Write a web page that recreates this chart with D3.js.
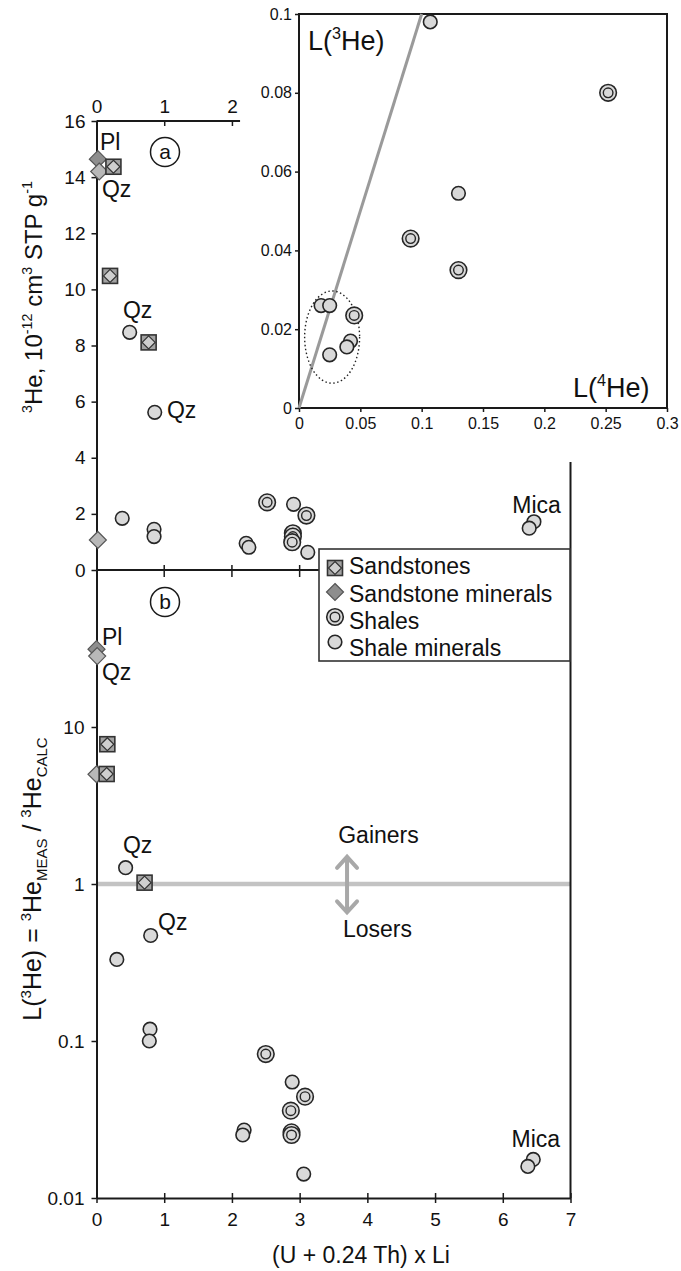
<!DOCTYPE html>
<html>
<head>
<meta charset="utf-8">
<title>3He loss vs (U + 0.24 Th) x Li</title>
<script src="https://d3js.org/d3.v7.min.js"></script>
<style>
  body { margin: 0; background: #fff; }
  text { font-family: "Liberation Sans", Arial, sans-serif; fill: #111; }
</style>
</head>
<body>
<script>
// ---- data ----
// panel (a): 3He concentration
var aSandX = [0.25, 0.20, 0.77];
var aSandY = [14.37, 10.48, 8.11];
var aSandMinX = [0.02, 0.04, 0.02];
var aSandMinY = [14.64, 14.20, 1.07];
var sandMinName = ["Pl", "Qz", "Qz"];
var aShaleX = [2.52, 3.10, 2.90, 2.90, 2.89];
var aShaleY = [2.41, 1.94, 1.31, 1.19, 0.99];
var aShaleMinX = [0.49, 0.86, 0.38, 0.85, 0.85, 2.21, 2.25, 2.91, 3.12, 6.46, 6.39];
var aShaleMinY = [8.47, 5.62, 1.84, 1.45, 1.19, 0.95, 0.81, 2.34, 0.63, 1.72, 1.49];

// panel (b): L(3He)
var bSandX = [0.16, 0.15, 0.71];
var bSandY = [7.77, 5.02, 1.02];
var bSandMinX = [0.00, 0.01, 0.00];
var bSandMinY = [31.3, 28.3, 5.0];
var bShaleX = [2.50, 3.08, 2.87, 2.88, 2.88];
var bShaleY = [0.0826, 0.0442, 0.036, 0.0262, 0.0252];
var bShaleMinX = [0.43, 0.80, 0.30, 0.79, 0.78, 2.89, 2.18, 2.16, 3.06, 6.45, 6.37];
var bShaleMinY = [1.27, 0.47, 0.331, 0.119, 0.100, 0.0548, 0.0271, 0.0252, 0.0142, 0.0176, 0.0159];

// inset: L(3He) vs L(4He)
var inShaleX = [0.252, 0.091, 0.130, 0.045];
var inShaleY = [0.080, 0.043, 0.035, 0.0235];
var inShaleMinX = [0.107, 0.130, 0.018, 0.025, 0.042, 0.039, 0.025];
var inShaleMinY = [0.098, 0.0545, 0.026, 0.026, 0.017, 0.0155, 0.0135];
var ellipseCentre = [0.027, 0.018];
var ellipseRadii = [0.0224, 0.0117];

// ticks
var xTicks = [0, 1, 2, 3, 4, 5, 6, 7];
var xTicksTop = [0, 1, 2];
var xTicksMid = [1, 2, 3];
var yTicksA = [0, 2, 4, 6, 8, 10, 12, 14, 16];
var yTicksB = [0.01, 0.1, 1, 10];
var yTickLabelsB = ["0.01", "0.1", "1", "10"];
var inXTicks = [0, 0.05, 0.1, 0.15, 0.2, 0.25, 0.3];
var inYTicks = [0, 0.02, 0.04, 0.06, 0.08, 0.1];

// annotations (data coordinates)
var notesA = [["Pl", 0.05, 14.97], ["Qz", 0.08, 13.29], ["Qz", 0.39, 8.98], ["Qz", 1.04, 5.42], ["Mica", 6.14, 2.03]];
var notesB = [["Pl", 0.08, 33.3], ["Qz", 0.08, 19.9], ["Qz", 0.39, 1.575], ["Qz", 0.91, 0.509], ["Mica", 6.13, 0.0211]];
var legendItems = ["Sandstones", "Sandstone minerals", "Shales", "Shale minerals"];

var zip = function (xs, ys) { return xs.map(function (x, i) { return [x, ys[i]]; }); };

var W = 681, H = 1271;
var svg = d3.select("body").append("svg").attr("width", W).attr("height", H);

// scales
var x = d3.scaleLinear().domain([0, 7]).range([96.5, 570.5]);
var yA = d3.scaleLinear().domain([0, 16]).range([570, 121]);
var yB = d3.scaleLog().domain([0.01, 100]).range([1198, 570]);
var xi = d3.scaleLinear().domain([0, 0.3]).range([299, 667]);
var yi = d3.scaleLinear().domain([0, 0.1]).range([408, 14]);

var ink = "#1a1a1a";
var FS = 19;

function styleAxis(g, fs) {
  g.selectAll("path.domain").attr("stroke", ink).attr("stroke-width", 2);
  g.selectAll(".tick line").attr("stroke", ink).attr("stroke-width", 1.5);
  g.selectAll(".tick text").attr("font-size", fs).attr("font-family", '"Liberation Sans", Arial, sans-serif').attr("fill", ink);
}

// rich text with super/subscripts
function rich(t, parts, size) {
  var off = 0;
  parts.forEach(function (p) {
    var target = p[1] === "sup" ? -0.42 * size : p[1] === "sub" ? 0.25 * size : 0;
    var ts = t.append("tspan").text(p[0]).attr("dy", target - off);
    if (p[1]) ts.attr("font-size", size * 0.6);
    off = target;
  });
}

// ---------- gray line at L = 1 ----------
svg.append("line")
  .attr("x1", x(0)).attr("x2", x(7)).attr("y1", yB(1)).attr("y2", yB(1))
  .attr("stroke", "#c3c3c3").attr("stroke-width", 4.5);

// gainers / losers arrow
(function () {
  var ax = x(3.70), y1 = yB(1.49), y2 = yB(0.66);
  var g = svg.append("g").attr("stroke", "#a8a8a8").attr("stroke-width", 4).attr("fill", "none").attr("stroke-linecap", "round");
  g.append("line").attr("x1", ax).attr("x2", ax).attr("y1", y1 + 2).attr("y2", y2 - 2);
  g.append("path").attr("d", "M" + (ax - 10) + "," + (y1 + 11) + "L" + ax + "," + y1 + "L" + (ax + 10) + "," + (y1 + 11));
  g.append("path").attr("d", "M" + (ax - 10) + "," + (y2 - 11) + "L" + ax + "," + y2 + "L" + (ax + 10) + "," + (y2 - 11));
  svg.append("text").attr("x", x(3.57)).attr("y", yB(1.82)).attr("font-size", 23).text("Gainers");
  svg.append("text").attr("x", x(3.64)).attr("y", yB(0.46)).attr("font-size", 23).text("Losers");
})();

// ---------- axes ----------
var intFmt = d3.format("d");

// panel a left
var gA = svg.append("g").attr("transform", "translate(" + x(0) + ",0)")
  .call(d3.axisLeft(yA).tickValues(yTicksA).tickFormat(intFmt).tickSizeInner(5).tickSizeOuter(0).tickPadding(6));
styleAxis(gA, FS);

// panel a top (short)
var gTop = svg.append("g").attr("transform", "translate(0," + yA(16) + ")")
  .call(d3.axisTop(x).tickValues(xTicksTop).tickFormat(intFmt).tickSizeInner(-5).tickSizeOuter(0).tickPadding(8));
styleAxis(gTop, FS);
gTop.select("path.domain").attr("d", "M" + x(0) + ",0H" + x(2.12));

// middle axis (shared 0 / 100 line)
svg.append("line").attr("x1", x(0)).attr("x2", 319).attr("y1", yA(0)).attr("y2", yA(0))
  .attr("stroke", ink).attr("stroke-width", 2);
svg.selectAll("line.midtick").data(xTicksMid).join("line").attr("class", "midtick")
  .attr("x1", function (d) { return x(d); }).attr("x2", function (d) { return x(d); })
  .attr("y1", yA(0) - 5).attr("y2", yA(0) + 7).attr("stroke", ink).attr("stroke-width", 1.5);

// panel b left
var gB = svg.append("g").attr("transform", "translate(" + x(0) + ",0)")
  .call(d3.axisLeft(yB).tickValues(yTicksB).tickFormat(function (d, i) { return yTickLabelsB[i]; })
    .tickSizeInner(5).tickSizeOuter(0).tickPadding(7));
styleAxis(gB, FS);

// bottom axis
var gX = svg.append("g").attr("transform", "translate(0," + yB(0.01) + ")")
  .call(d3.axisBottom(x).tickValues(xTicks).tickFormat(intFmt).tickSizeInner(5).tickSizeOuter(0).tickPadding(10));
styleAxis(gX, FS);
gX.selectAll(".tick line").attr("y1", -5);

// right frame line
svg.append("line").attr("x1", x(7)).attr("x2", x(7)).attr("y1", 462).attr("y2", yB(0.01))
  .attr("stroke", ink).attr("stroke-width", 2);

// axis titles
rich(svg.append("text").attr("text-anchor", "middle").attr("font-size", 24)
  .attr("transform", "translate(42,297) rotate(-90)"),
  [["3", "sup"], ["He, 10"], ["-12", "sup"], [" cm"], ["3", "sup"], [" STP  g"], ["-1", "sup"]], 24);

rich(svg.append("text").attr("text-anchor", "middle").attr("font-size", 25)
  .attr("transform", "translate(41,879) rotate(-90)"),
  [["L("], ["3", "sup"], ["He) = "], ["3", "sup"], ["He"], ["MEAS", "sub"], [" / "], ["3", "sup"], ["He"], ["CALC", "sub"]], 25);

svg.append("text").attr("x", 361).attr("y", 1263).attr("text-anchor", "middle").attr("font-size", 23)
  .text("(U + 0.24 Th) x Li");

// panel letters
[["a", yA(0) - 418], ["b", yA(0) + 32]].forEach(function (p) {
  svg.append("circle").attr("cx", 165).attr("cy", p[1]).attr("r", 14.5)
    .attr("fill", "none").attr("stroke", ink).attr("stroke-width", 1.5);
  svg.append("text").attr("x", 165).attr("y", p[1] + 7).attr("text-anchor", "middle").attr("font-size", 21).text(p[0]);
});

// ---------- markers ----------
function shaleMin(g, pts, sx, sy) {
  g.selectAll(null).data(pts).join("circle")
    .attr("cx", function (d) { return sx(d[0]); }).attr("cy", function (d) { return sy(d[1]); })
    .attr("r", 6.8).attr("fill", "#d9d9d9").attr("stroke", "#262626").attr("stroke-width", 1.6);
}
function shale(g, pts, sx, sy) {
  var s = g.selectAll(null).data(pts).join("g")
    .attr("transform", function (d) { return "translate(" + sx(d[0]) + "," + sy(d[1]) + ")"; });
  s.append("circle").attr("r", 8.3).attr("fill", "#d9d9d9").attr("stroke", "#262626").attr("stroke-width", 1.6);
  s.append("circle").attr("r", 4.8).attr("fill", "#d9d9d9").attr("stroke", "#262626").attr("stroke-width", 1.4);
}
function sand(g, pts, sx, sy) {
  var s = g.selectAll(null).data(pts).join("g")
    .attr("transform", function (d) { return "translate(" + sx(d[0]) + "," + sy(d[1]) + ")"; });
  s.append("rect").attr("x", -7.5).attr("y", -7.5).attr("width", 15).attr("height", 15)
    .attr("fill", "#a3a3a3").attr("stroke", "#333").attr("stroke-width", 1.6);
  s.append("path").attr("d", "M0,-6.5L6.5,0L0,6.5L-6.5,0Z").attr("fill", "#cfcfcf").attr("stroke", "#333").attr("stroke-width", 1.2);
}
function sandMin(g, pts, sx, sy) {
  g.selectAll(null).data(pts).join("path")
    .attr("transform", function (d) { return "translate(" + sx(d[0]) + "," + sy(d[1]) + ")"; })
    .attr("d", "M0,-8.5L8.5,0L0,8.5L-8.5,0Z")
    .attr("fill", function (d, i) { return sandMinName[i] === "Pl" ? "#8e8e8e" : "#b8b8b8"; })
    .attr("stroke", "#555").attr("stroke-width", 1.2);
}

var gPa = svg.append("g");
sandMin(gPa, zip(aSandMinX, aSandMinY), x, yA);
sand(gPa, zip(aSandX, aSandY), x, yA);
shaleMin(gPa, zip(aShaleMinX, aShaleMinY), x, yA);
shale(gPa, zip(aShaleX, aShaleY), x, yA);

var gPb = svg.append("g");
sandMin(gPb, zip(bSandMinX, bSandMinY), x, yB);
sand(gPb, zip(bSandX, bSandY), x, yB);
shaleMin(gPb, zip(bShaleMinX, bShaleMinY), x, yB);
shale(gPb, zip(bShaleX, bShaleY), x, yB);

notesA.forEach(function (n) {
  svg.append("text").attr("x", x(n[1])).attr("y", yA(n[2])).attr("font-size", 23).text(n[0]);
});
notesB.forEach(function (n) {
  svg.append("text").attr("x", x(n[1])).attr("y", yB(n[2])).attr("font-size", 23).text(n[0]);
});

// ---------- inset ----------
var gi = svg.append("g");
gi.append("rect").attr("x", xi(0)).attr("y", yi(0.1)).attr("width", xi(0.3) - xi(0)).attr("height", yi(0) - yi(0.1))
  .attr("fill", "#fff").attr("stroke", ink).attr("stroke-width", 2);
var giy = gi.append("g").attr("transform", "translate(" + xi(0) + ",0)")
  .call(d3.axisLeft(yi).tickValues(inYTicks).tickFormat(d3.format("~g")).tickSizeInner(4).tickSizeOuter(0).tickPadding(3));
styleAxis(giy, 16);
giy.select("path.domain").remove();
var gix = gi.append("g").attr("transform", "translate(0," + yi(0) + ")")
  .call(d3.axisBottom(xi).tickValues(inXTicks).tickFormat(d3.format("~g")).tickSizeInner(4).tickSizeOuter(0).tickPadding(6));
styleAxis(gix, 16);
gix.select("path.domain").remove();

// 1:1 line
gi.append("line").attr("x1", xi(0)).attr("y1", yi(0)).attr("x2", xi(0.1)).attr("y2", yi(0.1))
  .attr("stroke", "#9a9a9a").attr("stroke-width", 3);
gi.append("ellipse").attr("cx", xi(ellipseCentre[0])).attr("cy", yi(ellipseCentre[1]))
  .attr("rx", xi(ellipseRadii[0]) - xi(0)).attr("ry", yi(0) - yi(ellipseRadii[1]))
  .attr("fill", "none").attr("stroke", "#222").attr("stroke-width", 1.4).attr("stroke-dasharray", "1.5,2.5");
shaleMin(gi, zip(inShaleMinX, inShaleMinY), xi, yi);
shale(gi, zip(inShaleX, inShaleY), xi, yi);

rich(gi.append("text").attr("x", 308).attr("y", 50).attr("font-size", 27),
  [["L("], ["3", "sup"], ["He)"]], 27);
rich(gi.append("text").attr("x", 573).attr("y", 397).attr("font-size", 27),
  [["L("], ["4", "sup"], ["He)"]], 27);

// ---------- legend ----------
var lg = svg.append("g");
lg.append("rect").attr("x", 319).attr("y", 549).attr("width", 251).attr("height", 112)
  .attr("fill", "#fff").attr("stroke", "#333").attr("stroke-width", 1.6);
var legY = [568, 592, 617, 642];
var legDraw = [sand, sandMin, shale, shaleMin];
legendItems.forEach(function (name, i) {
  var row = lg.append("g");
  legDraw[i](row, [[0, 0]], function () { return 335; }, function () { return legY[i]; });
  row.append("text").attr("x", 349).attr("y", [574, 602, 629, 656][i]).attr("font-size", 23).text(name);
});
</script>
</body>
</html>
